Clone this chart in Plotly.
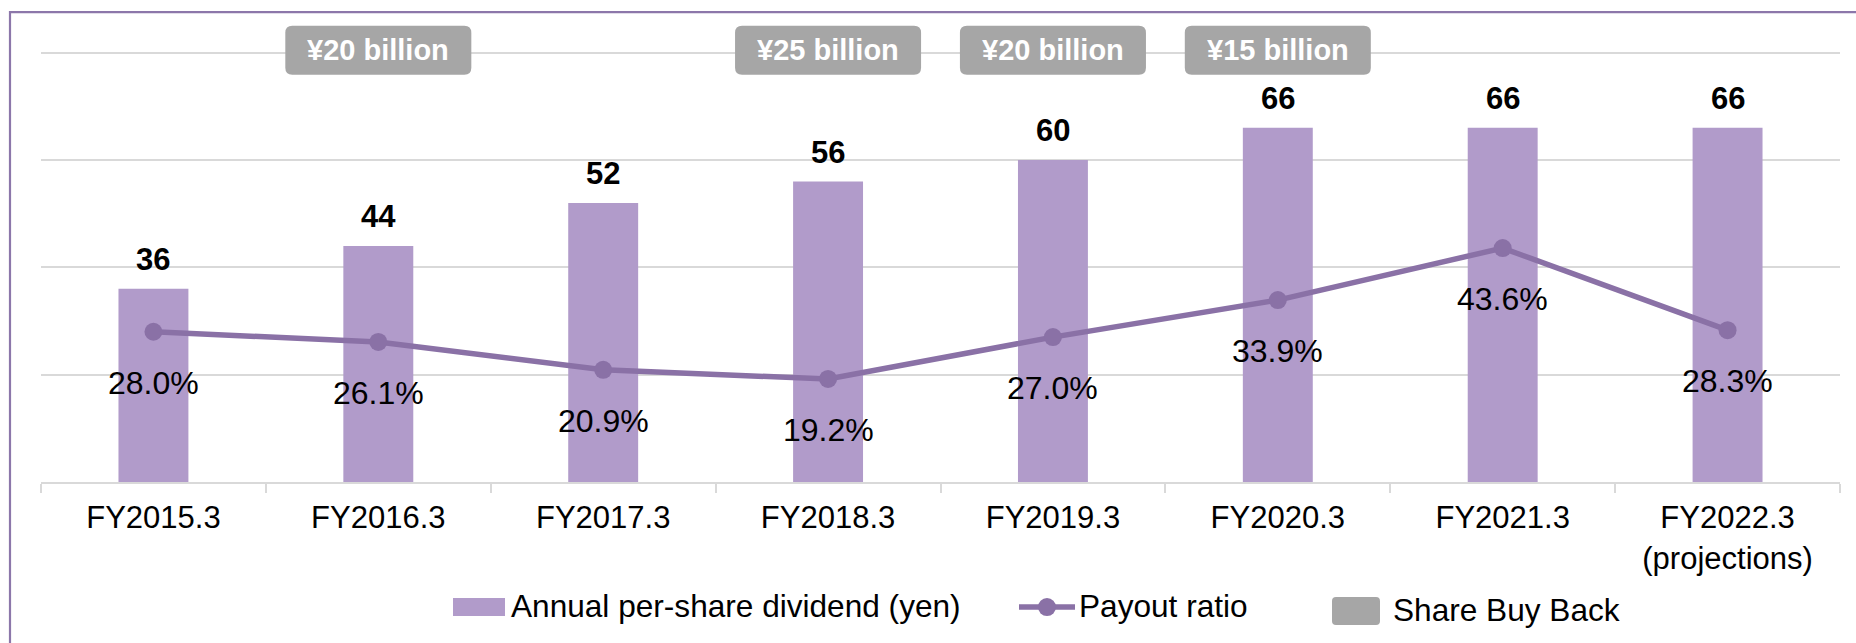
import plotly.graph_objects as go

# ---- data -----------------------------------------------------------------
categories = ["FY2015.3", "FY2016.3", "FY2017.3", "FY2018.3",
              "FY2019.3", "FY2020.3", "FY2021.3", "FY2022.3<br>(projections)"]
dividend_yen = [36, 44, 52, 56, 60, 66, 66, 66]
payout_ratio = [28.0, 26.1, 20.9, 19.2, 27.0, 33.9, 43.6, 28.3]
buyback_years = ["FY2016.3", "FY2018.3", "FY2019.3", "FY2020.3"]
buyback_billion_yen = [20, 25, 20, 15]

# ---- style ----------------------------------------------------------------
FONT = "Liberation Sans, Arial, sans-serif"
BAR_COLOR = "#B19BCA"
LINE_COLOR = "#8A71A6"
FRAME_COLOR = "#8C77AA"
GRID_COLOR = "#D9D9D9"
BOX_COLOR = "#A6A6A6"

W, H = 1856, 643
PX_PER_UNIT = 429 / 80          # vertical scale shared by both y axes
Y_MAX = 82                      # a little headroom so the 80 gridline is drawn
PLOT_L, PLOT_R, PLOT_B = 41, 1840, 482
PLOT_T = PLOT_B - Y_MAX * PX_PER_UNIT


def px_x(p):
    return (p - PLOT_L) / (PLOT_R - PLOT_L)


def px_y(p):
    return (PLOT_B - p) / (PLOT_B - PLOT_T)


def rounded_rect(x0, y0, x1, y1, r):
    """SVG path of a rounded rectangle given in pixels, returned in paper units."""
    def P(x, y):
        return f"{px_x(x):.5f},{px_y(y):.5f}"
    return " ".join([
        f"M {P(x0 + r, y0)}",
        f"L {P(x1 - r, y0)}",
        f"Q {P(x1, y0)} {P(x1, y0 + r)}",
        f"L {P(x1, y1 - r)}",
        f"Q {P(x1, y1)} {P(x1 - r, y1)}",
        f"L {P(x0 + r, y1)}",
        f"Q {P(x0, y1)} {P(x0, y1 - r)}",
        f"L {P(x0, y0 + r)}",
        f"Q {P(x0, y0)} {P(x0 + r, y0)} Z",
    ])


fig = go.Figure()

fig.add_trace(go.Bar(
    x=categories, y=dividend_yen, name="Annual per-share dividend (yen)",
    marker=dict(color=BAR_COLOR, line=dict(width=0)), showlegend=False,
))
fig.add_trace(go.Scatter(
    x=categories, y=payout_ratio, name="Payout ratio", yaxis="y2",
    mode="lines+markers",
    line=dict(color=LINE_COLOR, width=5.5),
    marker=dict(color=LINE_COLOR, size=18),
    showlegend=False,
))

annotations = []
shapes = []

# dividend values above bars
for c, v in zip(categories, dividend_yen):
    annotations.append(dict(
        x=c, y=v, xref="x", yref="y", text=f"<b>{v}</b>", showarrow=False,
        yanchor="bottom", yshift=10,
        font=dict(family=FONT, size=31, color="#000000"),
    ))

# payout ratio values below markers
for c, v in zip(categories, payout_ratio):
    annotations.append(dict(
        x=c, y=v, xref="x", yref="y2", text=f"{v:.1f}%", showarrow=False,
        yanchor="top", yshift=-31,
        font=dict(family=FONT, size=32, color="#000000"),
    ))

# share buy back call-outs
n = len(categories)
BOX_W, BOX_TOP, BOX_BOT = 186, 26, 75
for fy, amt in zip(buyback_years, buyback_billion_yen):
    i = categories.index(fy)
    cx = PLOT_L + (i + 0.5) / n * (PLOT_R - PLOT_L)
    shapes.append(dict(
        type="path", xref="paper", yref="paper",
        path=rounded_rect(cx - BOX_W / 2, BOX_TOP, cx + BOX_W / 2, BOX_BOT, 7),
        fillcolor=BOX_COLOR, line=dict(width=0), layer="above",
    ))
    annotations.append(dict(
        x=(i + 0.5) / n, y=px_y((BOX_TOP + BOX_BOT) / 2), xref="paper", yref="paper",
        text=f"<b>¥{amt} billion</b>", showarrow=False,
        xanchor="center", yanchor="middle",
        font=dict(family=FONT, size=29, color="#FFFFFF"),
    ))

# outer frame
shapes.append(dict(
    type="rect", xref="paper", yref="paper",
    x0=px_x(10), x1=px_x(1900), y0=px_y(12.5), y1=px_y(700),
    line=dict(color=FRAME_COLOR, width=2.2), fillcolor="rgba(0,0,0,0)",
    layer="above",
))

# legend
LEG_Y = 606
LEG_FONT = dict(family=FONT, size=31.6, color="#000000")
shapes.append(dict(
    type="rect", xref="paper", yref="paper",
    x0=px_x(453), x1=px_x(505), y0=px_y(598), y1=px_y(616),
    fillcolor=BAR_COLOR, line=dict(width=0),
))
annotations.append(dict(
    x=px_x(509), y=px_y(LEG_Y), xref="paper", yref="paper",
    text="Annual per-share dividend (yen)", showarrow=False,
    xanchor="left", yanchor="middle", font=LEG_FONT,
))
shapes.append(dict(
    type="line", xref="paper", yref="paper",
    x0=px_x(1019), x1=px_x(1075), y0=px_y(LEG_Y + 1), y1=px_y(LEG_Y + 1),
    line=dict(color=LINE_COLOR, width=5.5),
))
shapes.append(dict(
    type="circle", xref="paper", yref="paper",
    x0=px_x(1038), x1=px_x(1056), y0=px_y(LEG_Y + 10), y1=px_y(LEG_Y - 8),
    fillcolor=LINE_COLOR, line=dict(width=0),
))
annotations.append(dict(
    x=px_x(1077), y=px_y(LEG_Y), xref="paper", yref="paper",
    text="Payout ratio", showarrow=False,
    xanchor="left", yanchor="middle", font=LEG_FONT,
))
shapes.append(dict(
    type="path", xref="paper", yref="paper",
    path=rounded_rect(1332, 597, 1380, 625, 4),
    fillcolor=BOX_COLOR, line=dict(width=0),
))
annotations.append(dict(
    x=px_x(1391), y=px_y(LEG_Y + 4), xref="paper", yref="paper",
    text="Share Buy Back", showarrow=False,
    xanchor="left", yanchor="middle", font=LEG_FONT,
))

fig.update_layout(
    width=W, height=H,
    margin=dict(l=PLOT_L, r=W - PLOT_R, t=PLOT_T, b=H - PLOT_B, pad=0),
    paper_bgcolor="#FFFFFF", plot_bgcolor="#FFFFFF",
    bargap=0.689,
    font=dict(family=FONT, size=31, color="#000000"),
    xaxis=dict(
        type="category", showline=True, linecolor=GRID_COLOR, linewidth=2,
        ticks="outside", tickson="boundaries", ticklen=9, tickwidth=2,
        tickcolor=GRID_COLOR, showgrid=False, ticklabelstandoff=7,
        tickfont=dict(family=FONT, size=31, color="#000000"),
    ),
    yaxis=dict(
        range=[0, Y_MAX], dtick=20, showgrid=True, gridcolor=GRID_COLOR,
        gridwidth=2, showticklabels=False, zeroline=False, showline=False,
    ),
    yaxis2=dict(
        range=[0, Y_MAX], overlaying="y", visible=False,
    ),
    annotations=annotations,
    shapes=shapes,
    showlegend=False,
)

fig.write_html("out.html")
